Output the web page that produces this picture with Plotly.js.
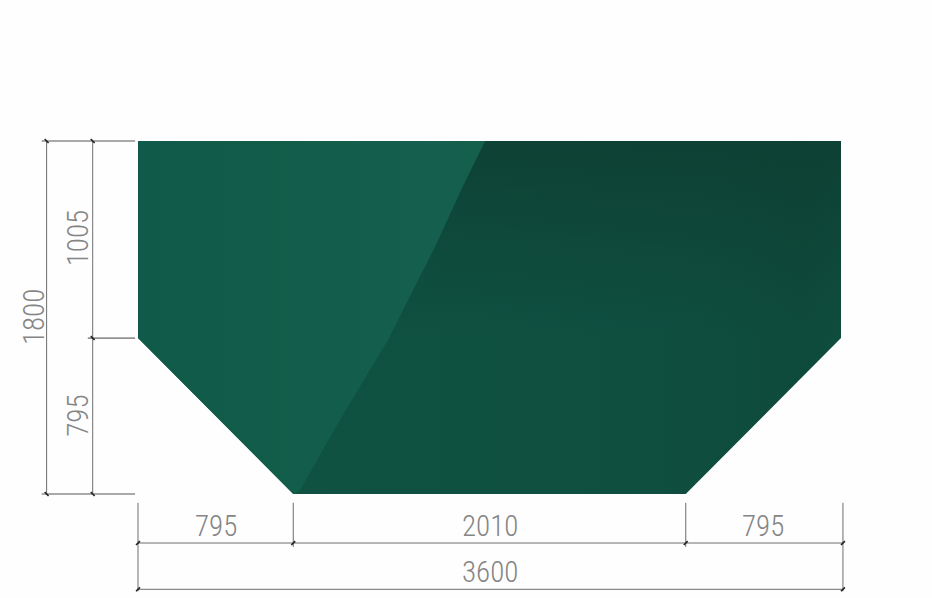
<!DOCTYPE html>
<html><head><meta charset="utf-8">
<script src="https://cdn.plot.ly/plotly-3.0.1.min.js"></script>
<style>html,body{margin:0;padding:0;background:#fff}#c{width:932px;height:598px}
.annotation-text{font-stretch:75%}</style>
</head><body><div id="c"></div>
<script>
// Dimensions (mm)
const widthSegments = [795, 2010, 795];
const heightSegments = [795, 1005];
const totalWidth = 3600;
const totalHeight = 1800;
// Dimension line offsets from the plate (mm)
const horizDimY = [-250, -486];
const vertDimX = [-232, -468];
const extGap = 45;
// Reflection band edge across the plate, top to bottom (mm)
const bandEdgeX = [1777, 1655, 1525, 1280, 1034, 830, 804];
const bandEdgeY = [1800, 1551, 1270, 786, 378, 20, 0];
const dimColor = '#6e6e6e';
const textColor = '#858585';
const font = 'Roboto Condensed, Roboto, sans-serif';

const x1 = widthSegments[0], x2 = widthSegments[0] + widthSegments[1];
const yc = heightSegments[0];
const pxPerMm = 703 / totalWidth;
const pxPerMmY = 353 / totalHeight;
const xRange = [-138 / pxPerMm, (932 - 138) / pxPerMm];
const yRange = [-(598 - 494) / pxPerMmY, 494 / pxPerMmY];

const traces = [];
function line(xs, ys, color, w) {
  traces.push({type:'scatter', mode:'lines', x:xs, y:ys, hoverinfo:'skip', showlegend:false,
    line:{color:color||dimColor, width:w||1}});
}
function poly(xs, ys, gradient) {
  traces.push({type:'scatter', mode:'lines', hoverinfo:'skip', showlegend:false, x:xs, y:ys,
    fill:'toself', line:{width:0,color:'rgba(0,0,0,0)'}, fillgradient:gradient});
}
// plate, dark base
poly([0,totalWidth,totalWidth,x2,x1,0,0], [totalHeight,totalHeight,yc,0,0,yc,totalHeight],
  {type:'horizontal', colorscale:[[0,'#0f5342'],[0.5,'#0f5141'],[0.8,'#0f4e3f'],[0.95,'#0e4a3b'],[1,'#0f4d3e']]});
// darker top of the right-hand area
poly(bandEdgeX.concat([x2,totalWidth,totalWidth,bandEdgeX[0]]), bandEdgeY.concat([0,yc,totalHeight,totalHeight]),
  {type:'vertical', colorscale:[[0,'rgba(13,62,50,0)'],[0.45,'rgba(13,62,50,0)'],[0.85,'rgba(13,62,50,0.6)'],[1,'rgba(13,62,50,0.8)']]});
// lighter reflection band
poly([0].concat(bandEdgeX).concat([x1,0,0]), [totalHeight].concat(bandEdgeY).concat([0,yc,totalHeight]),
  {type:'horizontal', colorscale:[[0,'#0f5a48'],[0.4,'#125c4a'],[0.8,'#155f4e'],[1,'#14604c']]});

// horizontal dimension lines
const hA = horizDimY[0], hB = horizDimY[1];
const wEdges = [0, x1, x2, totalWidth + 10];
line([0, totalWidth + 10], [hA, hA]);
line([0, totalWidth + 10], [hB, hB]);
wEdges.forEach((e, i) => {
  const outer = i === 0 || i === 3;
  line([e, e], [-extGap, outer ? hB - 10 : hA - 20]);
  (outer ? [hA, hB] : [hA]).forEach(y => line([e - 10, e + 10], [y - 10, y + 10], '#222', 1.6));
});
// vertical dimension lines
const vA = vertDimX[0], vB = vertDimX[1];
line([vA, vA], [0, totalHeight]);
line([vB, vB], [0, totalHeight]);
line([vB - 25, -15], [totalHeight, totalHeight], '#555');
line([vB - 25, -15], [0, 0], '#555');
line([vA - 25, -15], [yc, yc], '#444');
[[vA, totalHeight],[vB, totalHeight],[vA, 0],[vB, 0],[vA, yc]].forEach(p => {
  line([p[0] - 10, p[0] + 10], [p[1] + 10, p[1] - 10], '#222', 1.6);
});

const ann = (x, y, t, angle, yshift, xshift) => ({x, y, text:String(t), showarrow:false, textangle:angle||0,
  xref:'x', yref:'y', xanchor:'center', yanchor:'middle', yshift:yshift||0, xshift:xshift||0,
  font:{family:font, size:29, weight:300, color:textColor}});
const annotations = [
  ann(x1 / 2, hA, widthSegments[0], 0, 17),
  ann(x1 + widthSegments[1] / 2, hA, widthSegments[1], 0, 17),
  ann(x2 + widthSegments[2] / 2, hA, widthSegments[2], 0, 17),
  ann(totalWidth / 2, hB, totalWidth, 0, 17),
  ann(vA, yc + heightSegments[1] / 2, heightSegments[1], -90, 1, -15),
  ann(vA, yc / 2, heightSegments[0], -90, 0, -15),
  ann(vB, totalHeight / 2, totalHeight, -90, 0, -13),
];

Plotly.newPlot('c', traces, {
  width:932, height:598, margin:{l:0,r:0,t:0,b:0},
  paper_bgcolor:'#fefefe', plot_bgcolor:'#fefefe', showlegend:false,
  xaxis:{range:xRange, visible:false, fixedrange:true},
  yaxis:{range:yRange, visible:false, fixedrange:true},
  annotations
}, {displayModeBar:false, staticPlot:true});
</script></body></html>
